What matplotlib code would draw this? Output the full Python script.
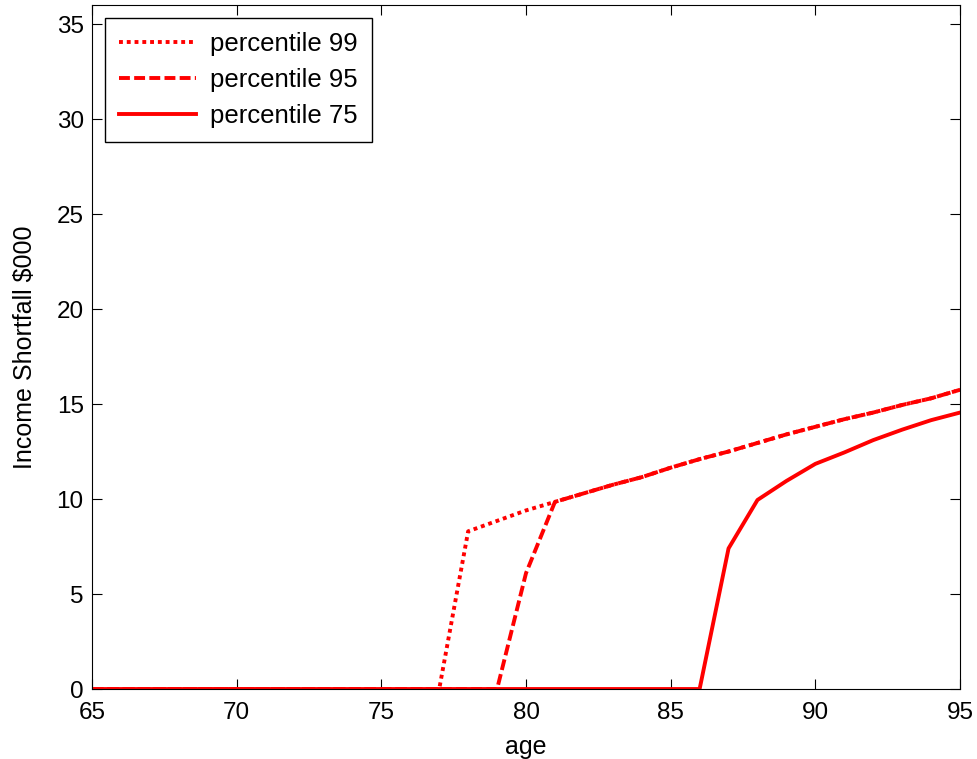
import matplotlib
matplotlib.use("Agg")
import matplotlib.pyplot as plt

plt.rcParams['font.family'] = ['Liberation Sans', 'DejaVu Sans']

age = list(range(65, 96))
p99 = [0]*13 + [8.3, 8.85, 9.4, 9.85, 10.3, 10.75, 11.15, 11.65, 12.1, 12.5, 12.95,
                13.4, 13.8, 14.2, 14.55, 14.95, 15.3, 15.75]
p95 = [0]*15 + [6.1, 9.85, 10.3, 10.75, 11.15, 11.65, 12.1, 12.5, 12.95,
                13.4, 13.8, 14.2, 14.55, 14.95, 15.3, 15.75]
p75 = [0]*22 + [7.4, 9.95, 10.95, 11.85, 12.45, 13.1, 13.65, 14.15, 14.55]

fig = plt.figure(figsize=(9.78, 7.59), dpi=100)
ax = fig.add_axes([0.0941, 0.0922, 0.8875, 0.9012])
ax.plot(age, p99, color='red', lw=2.8, linestyle=(0, (1, 1)), label='percentile 99')
ax.plot(age, p95, color='red', lw=2.8, linestyle=(0, (2.8, 1.1)), label='percentile 95')
ax.plot(age, p75, color='red', lw=2.8, label='percentile 75')

ax.set_xlim(65, 95)
ax.set_ylim(0, 36)
ax.set_xticks(range(65, 96, 5))
ax.set_yticks(range(0, 36, 5))
ax.tick_params(direction='in', top=True, right=True, labelsize=17.5, length=7)
ax.tick_params(axis='x', pad=9)
ax.tick_params(axis='y', pad=6)
ax.set_xlabel('age', fontsize=18, labelpad=8)
ax.set_ylabel('Income Shortfall $000', fontsize=18, labelpad=14)
leg = ax.legend(loc='upper left', fontsize=18.5, fancybox=False, edgecolor='black',
                framealpha=1, handlelength=3.0, handletextpad=0.55, borderpad=0.55,
                borderaxespad=0.5, labelspacing=0.47)
leg.get_frame().set_linewidth(1)

plt.savefig('out.png', dpi=100)
